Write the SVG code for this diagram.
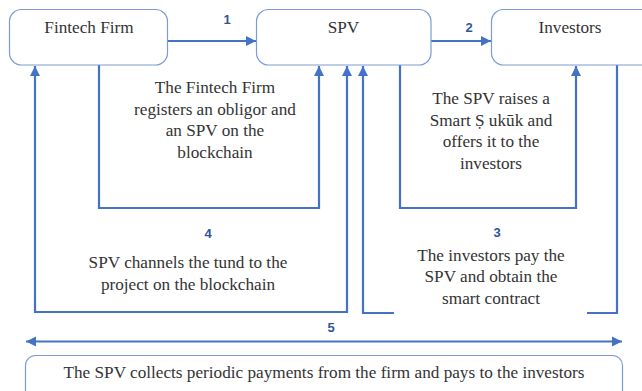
<svg xmlns="http://www.w3.org/2000/svg" width="642" height="391" viewBox="0 0 642 391">
<defs>
<marker id="ah" viewBox="0 0 10 10" refX="10" refY="5" markerWidth="4.6" markerHeight="4.6" orient="auto-start-reverse" markerUnits="strokeWidth">
<path d="M0,0 L10,5 L0,10 Z" fill="#4472C4"/>
</marker>
</defs>
<rect width="642" height="391" fill="#fff"/>
<g id="connectors" fill="none" stroke="#4472C4" stroke-width="2.2">
<path d="M168,41 H256" marker-end="url(#ah)"/>
<path d="M431,41 H491" marker-end="url(#ah)"/>
<path d="M99,65 V208 H319 V66" marker-end="url(#ah)"/>
<path d="M400,65 V208 H576 V66" marker-end="url(#ah)"/>
<path d="M35,66 V312 H347 V66" marker-start="url(#ah)" marker-end="url(#ah)"/>
<path d="M394,313 H363 V66" marker-end="url(#ah)"/>
<path d="M587,313 H617 V65"/>
<path d="M26,341.5 H622" marker-start="url(#ah)" marker-end="url(#ah)"/>
</g>
<g fill="#333" text-anchor="middle">
<g id="fintech">
<rect x="9.5" y="9.5" width="158" height="55.5" rx="12" fill="#fff" stroke="#7C9BD6" stroke-width="1.2"/>
<text x="89" y="33" font-family="Liberation Serif" style="font-family:'Liberation Serif';font-size:17.2px">Fintech Firm</text>
</g>
<g id="spv">
<rect x="256.5" y="9.5" width="174.5" height="55.5" rx="12" fill="#fff" stroke="#7C9BD6" stroke-width="1.2"/>
<text x="343.5" y="33" font-family="Liberation Serif" style="font-family:'Liberation Serif';font-size:17.2px">SPV</text>
</g>
<g id="investors">
<rect x="491.5" y="9.5" width="170" height="55.5" rx="12" fill="#fff" stroke="#7C9BD6" stroke-width="1.2"/>
<text x="570" y="33" font-family="Liberation Serif" style="font-family:'Liberation Serif';font-size:17.2px">Investors</text>
</g>
<g id="step1">
<text x="227" y="24" fill="#2F5597" style="font-family:'Liberation Sans';font-size:13px;font-weight:bold">1</text>
<text x="215" y="93" font-family="Liberation Serif" style="font-family:'Liberation Serif';font-size:17.2px">The Fintech Firm</text>
<text x="215" y="115" font-family="Liberation Serif" style="font-family:'Liberation Serif';font-size:17.2px">registers an obligor and</text>
<text x="215" y="136" font-family="Liberation Serif" style="font-family:'Liberation Serif';font-size:17.2px">an SPV on the</text>
<text x="215" y="158" font-family="Liberation Serif" style="font-family:'Liberation Serif';font-size:17.2px">blockchain</text>
</g>
<g id="step2">
<text x="469" y="32" fill="#2F5597" style="font-family:'Liberation Sans';font-size:13px;font-weight:bold">2</text>
<text x="491" y="104" font-family="Liberation Serif" style="font-family:'Liberation Serif';font-size:17.2px">The SPV raises a</text>
<text x="491" y="126" font-family="Liberation Serif" style="font-family:'Liberation Serif';font-size:17.2px">Smart Ṣ ukūk and</text>
<text x="491" y="147" font-family="Liberation Serif" style="font-family:'Liberation Serif';font-size:17.2px">offers it to the</text>
<text x="491" y="169" font-family="Liberation Serif" style="font-family:'Liberation Serif';font-size:17.2px">investors</text>
</g>
<g id="step3">
<text x="497" y="237" fill="#2F5597" style="font-family:'Liberation Sans';font-size:13px;font-weight:bold">3</text>
<text x="491" y="261" font-family="Liberation Serif" style="font-family:'Liberation Serif';font-size:17.2px">The investors pay the</text>
<text x="491" y="282" font-family="Liberation Serif" style="font-family:'Liberation Serif';font-size:17.2px">SPV and obtain the</text>
<text x="491" y="304" font-family="Liberation Serif" style="font-family:'Liberation Serif';font-size:17.2px">smart contract</text>
</g>
<g id="step4">
<text x="208" y="238" fill="#2F5597" style="font-family:'Liberation Sans';font-size:13px;font-weight:bold">4</text>
<text x="188" y="268" font-family="Liberation Serif" style="font-family:'Liberation Serif';font-size:17.2px">SPV channels the tund to the</text>
<text x="188" y="290" font-family="Liberation Serif" style="font-family:'Liberation Serif';font-size:17.2px">project on the blockchain</text>
</g>
<g id="step5">
<text x="331" y="332" fill="#2F5597" style="font-family:'Liberation Sans';font-size:13px;font-weight:bold">5</text>
<rect x="25.5" y="355.5" width="597" height="50" rx="10" fill="#fff" stroke="#7C9BD6" stroke-width="1.2"/>
<text x="324" y="378" font-family="Liberation Serif" style="font-family:'Liberation Serif';font-size:17.2px">The SPV collects periodic payments from the firm and pays to the investors</text>
</g>
</g>
</svg>
